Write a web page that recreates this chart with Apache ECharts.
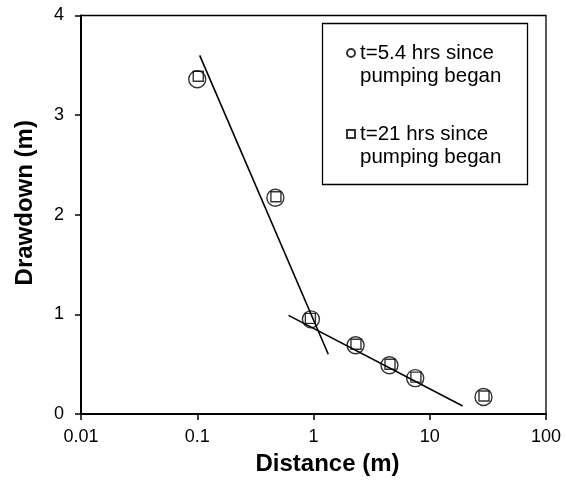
<!DOCTYPE html>
<html>
<head>
<meta charset="utf-8">
<script src="https://cdn.jsdelivr.net/npm/echarts@6/dist/echarts.min.js"></script>
<style>
  html, body { margin: 0; padding: 0; background: #fff; }
  #chart { width: 566px; height: 499px; }
</style>
</head>
<body>
<div id="chart"></div>
<script>
// Drawdown measured at observation wells, [distance (m), drawdown (m)]
const seriesNames = ['t=5.4 hrs since\npumping began', 't=21 hrs since\npumping began'];
const drawdown5h = [[0.1, 3.36], [0.47, 2.17], [0.95, 0.95], [2.3, 0.69], [4.5, 0.49], [7.5, 0.36], [29, 0.17]];
const drawdown21h = [[0.102, 3.39], [0.475, 2.18], [0.94, 0.96], [2.32, 0.70], [4.55, 0.50], [7.6, 0.37], [29.3, 0.18]];
// Straight-line fits on the semi-log plot (end points)
const fitNear = [[0.105, 3.6], [1.34, 0.6]];
const fitFar = [[0.61, 0.99], [19.2, 0.08]];
// Axis ranges
const xTicks = [0.01, 0.1, 1, 10, 100];
const yRange = [0, 4];

const FONT = '"Liberation Sans", Arial, sans-serif';
const chart = echarts.init(document.getElementById('chart'), null, { renderer: 'canvas' });

const hollow = { color: 'rgba(0,0,0,0)', borderColor: '#000', borderWidth: 1.4 };

chart.setOption({
  animation: false,
  backgroundColor: '#fff',
  grid: {
    left: 81, right: 20, top: 15.5, bottom: 85,
    show: true, borderColor: '#000', borderWidth: 1.3, backgroundColor: 'transparent'
  },
  xAxis: {
    type: 'log', logBase: 10,
    min: xTicks[0], max: xTicks[xTicks.length - 1],
    name: 'Distance (m)', nameLocation: 'middle', nameGap: 38,
    nameTextStyle: { fontFamily: FONT, fontSize: 24, fontWeight: 'bold', color: '#000', padding: [0, 0, 0, 28] },
    axisLine: { lineStyle: { color: '#000', width: 2 } },
    axisTick: { show: true, inside: false, length: 6, lineStyle: { color: '#000', width: 1.5 } },
    minorTick: { show: false },
    splitLine: { show: false },
    axisLabel: {
      fontFamily: FONT, fontSize: 18, color: '#000', margin: 14,
      formatter: v => String(+v.toPrecision(3))
    }
  },
  yAxis: {
    type: 'value', min: yRange[0], max: yRange[1], interval: 1,
    name: 'Drawdown (m)', nameLocation: 'middle', nameGap: 44,
    nameTextStyle: { fontFamily: FONT, fontSize: 24, fontWeight: 'bold', color: '#000', padding: [0, 0, 0, 24] },
    axisLine: { show: true, lineStyle: { color: '#000', width: 2 } },
    axisTick: { show: true, inside: false, length: 6, lineStyle: { color: '#000', width: 1.5 } },
    splitLine: { show: false },
    axisLabel: { fontFamily: FONT, fontSize: 18, color: '#000', margin: 17 }
  },
  legend: {
    data: seriesNames,
    orient: 'vertical',
    left: 346, top: 18.5,
    padding: 0,
    itemGap: 12,
    itemWidth: 8, itemHeight: 8,
    selectedMode: false,
    // a leading blank line keeps the marker level with the first text line
    formatter: name => '\n' + name,
    textStyle: { fontFamily: FONT, fontSize: 20.5, lineHeight: 23, color: '#000' }
  },
  graphic: [{
    type: 'rect', z: 10, silent: true,
    shape: { x: 322.5, y: 23.5, width: 205, height: 161 },
    style: { fill: 'transparent', stroke: '#000', lineWidth: 1.3 }
  }],
  series: [
    {
      name: 'fitNear', type: 'line', data: fitNear, showSymbol: false, symbol: 'none',
      lineStyle: { color: '#000', width: 1.6 }, silent: true, z: 1
    },
    {
      name: 'fitFar', type: 'line', data: fitFar, showSymbol: false, symbol: 'none',
      lineStyle: { color: '#000', width: 1.6 }, silent: true, z: 1
    },
    {
      name: seriesNames[0], type: 'scatter', data: drawdown5h,
      symbol: 'circle', symbolSize: 17, itemStyle: hollow, z: 3
    },
    {
      name: seriesNames[1], type: 'scatter', data: drawdown21h,
      symbol: 'rect', symbolSize: 10, itemStyle: hollow, z: 4
    }
  ]
});
</script>
</body>
</html>
